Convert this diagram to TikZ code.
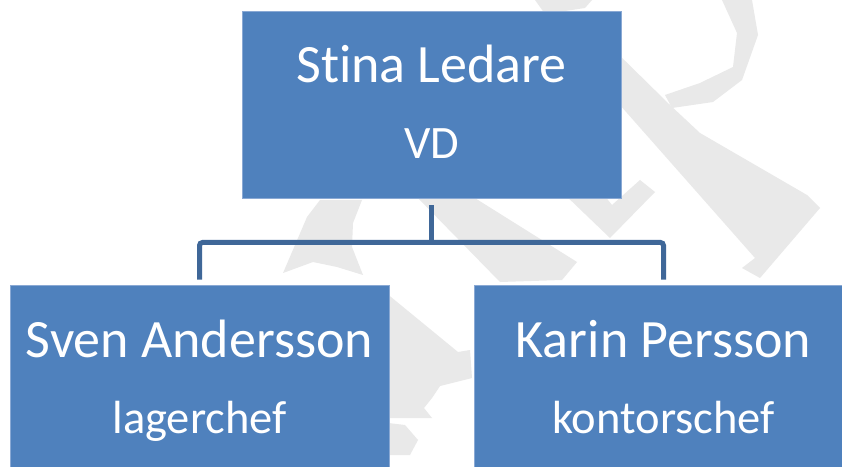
\documentclass[tikz,border=0pt]{standalone}
\usepackage{fontspec}
\setmainfont{Carlito}[Ligatures=NoCommon]
\definecolor{boxblue}{HTML}{4F81BD}
\definecolor{boxedge}{HTML}{8AA9D4}
\definecolor{connblue}{HTML}{3F6798}
\definecolor{wmgrey}{HTML}{E9E9E9}
\tikzset{
  orgbox/.style={rectangle, fill=boxblue, draw=boxedge, line width=1pt, minimum width=379pt, minimum height=187pt, inner sep=0pt},
  lbl/.style={text=white, font=\fontsize{54}{60}\selectfont, anchor=base, inner sep=0pt},
  rolelbl/.style={text=white, font=\fontsize{46.5}{52}\selectfont, anchor=base, inner sep=0pt},
  conn/.style={draw=connblue, line width=5pt, rounded corners=3pt},
  wm/.style={fill=wmgrey, draw=none}
}
\begin{document}
\begin{tikzpicture}[x=1pt,y=1pt]
\useasboundingbox (0,0) rectangle (842,466);
\clip (0,0) rectangle (842,466);
\fill[white] (0,0) rectangle (842,466);
% watermark fragments
\fill[wm] (307,249) -- (320,266) -- (362,266) -- (353,243) -- (352,219) -- (363,191) -- (337,199) -- (313,204) -- (283,193) -- cycle;
\fill[wm] (415,271) -- (470,271) -- (577,204) -- (562,186) -- (500,184) -- cycle;
\fill[wm] (380,178) -- (458,114) -- (470,116) -- (472,88) -- (440,80) -- (432,68) -- (424,58) -- (432,48) -- (380,48) -- cycle;
\fill[wm] (380,44) -- (405,41) -- (418,26) -- (410,11) -- (380,11) -- cycle;
\fill[wm] (612,418) -- (670,361) -- (700,333) -- (807,271) -- (820,258) -- (760,188) -- (742,198) -- (755,208) -- (612,370) -- cycle;
\fill[wm] (665,371) -- (700,383) -- (733,399) -- (737,433) -- (722,466) -- (752,466) -- (758,431) -- (742,386) -- (713,364) -- (672,358) -- cycle;
\fill[wm] (560,276) -- (600,276) -- (612,261) -- (640,286) -- (655,274) -- (610,228) -- cycle;
\fill[wm] (535,466) -- (592,466) -- (585,458) -- (545,452) -- cycle;
% boxes
\node[orgbox] (top) at (431.5,360.5) {};
\node[orgbox, minimum height=186pt] (leftbox) at (199.5,88) {};
\node[orgbox, minimum height=186pt] (rightbox) at (663.5,88) {};
% labels
\node[lbl] (topname) at ([yshift=22.5pt]top.center) {Stina Ledare};
\node[rolelbl] (toprole) at ([yshift=-53.5pt]top.center) {VD};
\node[lbl] (leftname) at ([yshift=21pt]leftbox.center) {Sven Andersson};
\node[rolelbl] (leftrole) at ([yshift=-55pt]leftbox.center) {lagerchef};
\node[lbl] (rightname) at ([yshift=21pt]rightbox.center) {Karin Persson};
\node[rolelbl] (rightrole) at ([yshift=-55pt]rightbox.center) {kontorschef};
% connectors
\coordinate (bus) at (431.5,223.5);
\draw[conn] ([yshift=-6pt]top.south) -- (bus);
\draw[conn] ([yshift=5pt]leftbox.north) |- (bus) -| ([yshift=5pt]rightbox.north);
\end{tikzpicture}
\end{document}
